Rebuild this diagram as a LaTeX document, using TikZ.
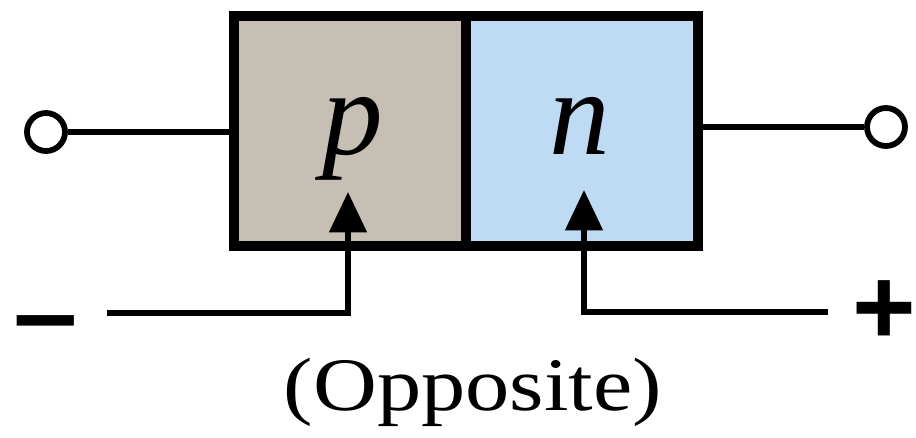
\documentclass[tikz,border=0pt]{standalone}
\usepackage{fontspec}
\setmainfont{Liberation Serif}
\newfontfamily\signfont{DejaVu Sans}
\newfontfamily\plusfont{Liberation Sans}
\usepackage{xcolor}
\usepackage{tikz}
\usetikzlibrary{arrows.meta,positioning,calc}

\definecolor{pfill}{RGB}{198,191,180}
\definecolor{nfill}{RGB}{191,219,244}

\begin{document}
\begin{tikzpicture}[x=0.02cm, y=-0.02cm,
  region/.style={draw, line width=5.2pt, minimum width=4.64cm, minimum height=4.6cm, inner sep=0pt},
  term/.style={draw, circle, line width=3.3pt, fill=white, minimum size=0.76cm, inner sep=0pt},
  wire/.style={line width=3.3pt},
  bias/.style={line width=3pt, -{Triangle[length=23pt, width=21pt]}},
  lett/.style={font=\fontsize{69}{80}\selectfont\itshape, inner sep=0pt, anchor=base},
  sign/.style={font=\fontsize{52}{60}\selectfont\signfont\bfseries, inner sep=0pt}]
  \useasboundingbox (0,0) rectangle (916,437);
  % Junction
  \node[region, fill=pfill] (pbox) at (350,131) {};
  \node[region, fill=nfill] (nbox) at (582,131) {};
  \node[lett] (plab) at (353,154) {p};
  \node[lett] (nlab) at (580,154) {n};
  % Terminals
  \node[term] (lterm) at (46,132) {};
  \node[term] (rterm) at (886,127) {};
  \draw[wire] (lterm.east) -- (lterm -| pbox.west);
  \draw[wire] (rterm -| nbox.east) -- (rterm.west);
  % Bias
  \coordinate (ptip) at (348,192);
  \coordinate (ntip) at (584,190);
  \coordinate (negend) at (107,313);
  \coordinate (posend) at (828,312);
  \draw[bias] (negend) -| (ptip);
  \draw[bias] (posend) -| (ntip);
  \node[sign] (minus) at (46,333) {−};
  \node[sign, font=\fontsize{62}{70}\selectfont\plusfont\bfseries] (plus) at (884,313) {+};
  % Caption
  \node[font=\fontsize{43}{50}\selectfont, xscale=1.17, inner sep=0pt, anchor=base] (cap) at (473,410) {(Opposite)};
\end{tikzpicture}
\end{document}
